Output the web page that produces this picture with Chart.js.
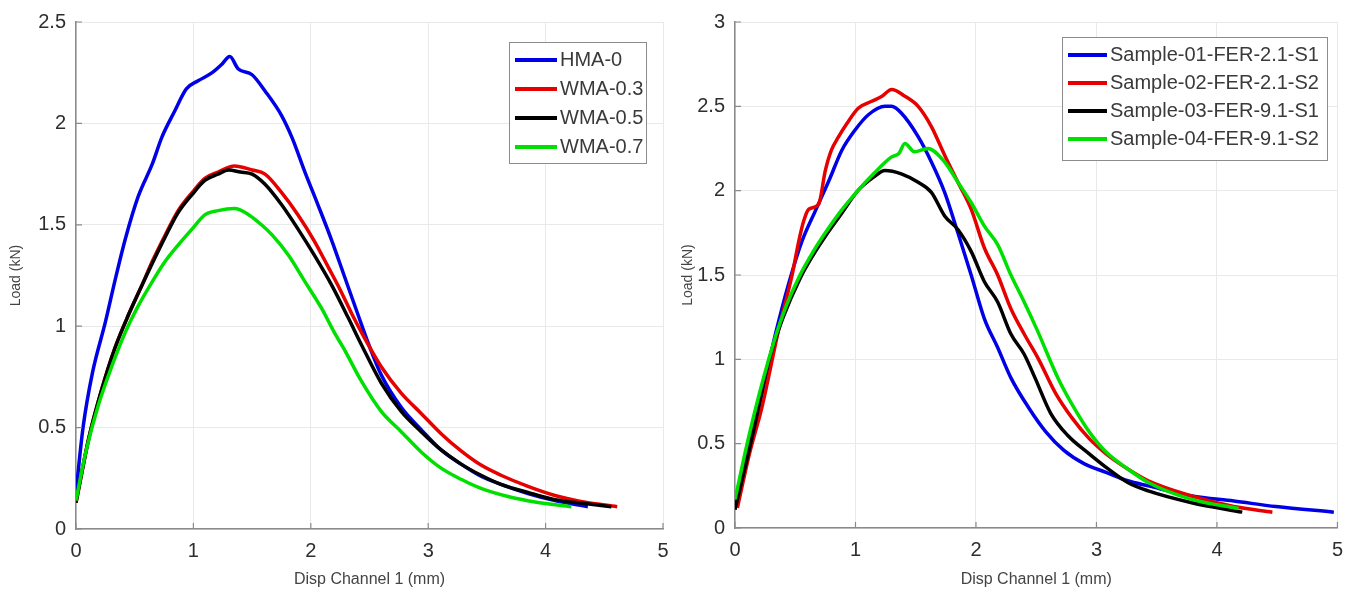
<!DOCTYPE html>
<html>
<head>
<meta charset="utf-8">
<script src="https://cdn.jsdelivr.net/npm/chart.js@4.4.0/dist/chart.umd.min.js"></script>
<style>
  html, body { margin: 0; padding: 0; background: #fff; }
  #wrap { position: relative; width: 1353px; height: 592px; }
  #left { position: absolute; left: 0; top: 0; }
  #right { position: absolute; left: 680px; top: 0; }
</style>
</head>
<body>
<div id="wrap">
  <canvas id="left" width="680" height="592"></canvas>
  <canvas id="right" width="673" height="592"></canvas>
</div>
<script>
// ---- data: [disp (mm), load (kN)] ----
const hma0 = [[0,0.18],[0.06,0.50],[0.14,0.77],[0.25,1.02],[0.33,1.22],[0.42,1.43],[0.53,1.64],[0.65,1.80],[0.73,1.93],[0.84,2.06],[0.94,2.17],[1.04,2.21],[1.16,2.25],[1.24,2.29],[1.31,2.33],[1.38,2.27],[1.50,2.24],[1.61,2.16],[1.75,2.04],[1.84,1.93],[1.95,1.76],[2.06,1.60],[2.18,1.42],[2.29,1.24],[2.40,1.06],[2.50,0.90],[2.60,0.76],[2.77,0.60],[2.94,0.49],[3.11,0.39],[3.28,0.32],[3.45,0.26],[3.62,0.22],[3.85,0.175],[4.08,0.14],[4.36,0.11]];
const wma03 = [[0,0.13],[0.11,0.45],[0.22,0.69],[0.33,0.89],[0.45,1.06],[0.56,1.20],[0.65,1.32],[0.76,1.45],[0.87,1.57],[0.99,1.66],[1.10,1.73],[1.21,1.76],[1.35,1.79],[1.50,1.77],[1.61,1.75],[1.75,1.66],[1.89,1.55],[2.03,1.42],[2.15,1.29],[2.25,1.18],[2.35,1.06],[2.45,0.95],[2.60,0.80],[2.77,0.67],[2.94,0.57],[3.11,0.47],[3.28,0.385],[3.45,0.315],[3.62,0.265],[3.85,0.21],[4.08,0.165],[4.30,0.136],[4.61,0.11]];
const wma05 = [[0,0.13],[0.11,0.45],[0.22,0.69],[0.33,0.89],[0.45,1.06],[0.56,1.20],[0.65,1.31],[0.76,1.44],[0.87,1.56],[0.99,1.65],[1.10,1.72],[1.21,1.75],[1.30,1.77],[1.40,1.76],[1.50,1.75],[1.61,1.70],[1.75,1.60],[1.89,1.48],[2.03,1.35],[2.18,1.20],[2.32,1.04],[2.43,0.91],[2.60,0.72],[2.77,0.58],[2.94,0.48],[3.11,0.39],[3.28,0.32],[3.45,0.265],[3.62,0.22],[3.85,0.18],[4.08,0.145],[4.30,0.128],[4.56,0.11]];
const wma07 = [[0,0.14],[0.08,0.37],[0.19,0.61],[0.31,0.81],[0.42,0.97],[0.53,1.10],[0.65,1.22],[0.76,1.32],[0.87,1.40],[0.99,1.48],[1.10,1.55],[1.21,1.57],[1.35,1.58],[1.47,1.55],[1.58,1.50],[1.67,1.45],[1.81,1.35],[1.95,1.22],[2.09,1.09],[2.20,0.97],[2.30,0.87],[2.43,0.73],[2.60,0.58],[2.77,0.48],[2.94,0.38],[3.11,0.30],[3.28,0.245],[3.45,0.20],[3.68,0.16],[3.91,0.133],[4.22,0.11]];

const s01 = [[0,0.11],[0.12,0.49],[0.225,0.80],[0.336,1.15],[0.446,1.45],[0.556,1.70],[0.667,1.88],[0.78,2.06],[0.887,2.24],[0.997,2.36],[1.107,2.45],[1.245,2.50],[1.30,2.50],[1.38,2.46],[1.52,2.32],[1.63,2.17],[1.74,1.99],[1.85,1.75],[1.96,1.50],[2.07,1.24],[2.18,1.07],[2.29,0.89],[2.44,0.71],[2.58,0.57],[2.73,0.46],[2.90,0.38],[3.08,0.33],[3.26,0.28],[3.43,0.25],[3.79,0.19],[4.14,0.16],[4.49,0.127],[4.97,0.094]];
const s02 = [[0.02,0.12],[0.12,0.44],[0.225,0.72],[0.364,1.18],[0.474,1.50],[0.529,1.70],[0.57,1.82],[0.612,1.89],[0.694,1.92],[0.75,2.12],[0.80,2.24],[0.86,2.32],[0.93,2.40],[1.025,2.49],[1.135,2.53],[1.22,2.56],[1.30,2.60],[1.41,2.56],[1.52,2.50],[1.63,2.38],[1.74,2.21],[1.85,2.05],[1.96,1.89],[2.07,1.66],[2.18,1.50],[2.29,1.30],[2.40,1.15],[2.52,1.00],[2.66,0.80],[2.80,0.65],[2.94,0.53],[3.08,0.44],[3.26,0.35],[3.43,0.28],[3.79,0.19],[4.14,0.127],[4.46,0.094]];
const s03 = [[0,0.11],[0.143,0.54],[0.28,0.99],[0.40,1.25],[0.54,1.48],[0.65,1.62],[0.75,1.73],[0.88,1.86],[1.02,2.00],[1.15,2.08],[1.245,2.12],[1.38,2.10],[1.52,2.05],[1.63,1.99],[1.74,1.85],[1.85,1.77],[1.96,1.64],[2.07,1.46],[2.18,1.34],[2.29,1.15],[2.40,1.03],[2.49,0.89],[2.62,0.68],[2.76,0.55],[2.94,0.44],[3.08,0.36],[3.26,0.27],[3.43,0.22],[3.79,0.15],[4.21,0.094]];
const s04 = [[0,0.17],[0.12,0.56],[0.28,1.00],[0.40,1.27],[0.54,1.50],[0.65,1.64],[0.75,1.75],[0.88,1.88],[1.02,2.00],[1.15,2.10],[1.30,2.20],[1.36,2.22],[1.41,2.28],[1.49,2.23],[1.60,2.25],[1.74,2.17],[1.85,2.05],[1.96,1.93],[2.07,1.79],[2.18,1.68],[2.29,1.50],[2.40,1.34],[2.51,1.17],[2.68,0.89],[2.80,0.73],[2.94,0.57],[3.08,0.45],[3.26,0.35],[3.43,0.27],[3.79,0.17],[4.18,0.116]];

const leftNames = ["HMA-0", "WMA-0.3", "WMA-0.5", "WMA-0.7"];
const rightNames = ["Sample-01-FER-2.1-S1", "Sample-02-FER-2.1-S2", "Sample-03-FER-9.1-S1", "Sample-04-FER-9.1-S2"];
const lineColors = ["#0000e6", "#e60000", "#000000", "#00e000"];
const xTicks = [0, 1, 2, 3, 4, 5];
const leftYTicks = [0, 0.5, 1, 1.5, 2, 2.5];
const rightYTicks = [0, 0.5, 1, 1.5, 2, 2.5, 3];

const FONT = "'Liberation Sans', Arial, sans-serif";
const AXIS = "#8a8a8a";

/* inward tick marks, MATLAB style */
const innerTicks = {
  id: "innerTicks",
  afterDatasetsDraw(chart) {
    const ctx = chart.ctx, x = chart.scales.x, y = chart.scales.y;
    const a = chart.chartArea;
    ctx.save();
    ctx.strokeStyle = AXIS;
    ctx.lineWidth = 1.2;
    ctx.beginPath();
    x.ticks.forEach(t => {
      const px = x.getPixelForValue(t.value);
      ctx.moveTo(px, a.bottom); ctx.lineTo(px, a.bottom - 6);
    });
    y.ticks.forEach(t => {
      const py = y.getPixelForValue(t.value);
      ctx.moveTo(a.left, py); ctx.lineTo(a.left + 6, py);
    });
    ctx.stroke();
    ctx.restore();
  }
};

/* boxed legend drawn inside the axes */
const boxLegend = {
  id: "boxLegend",
  afterDatasetsDraw(chart, args, opts) {
    const ctx = chart.ctx;
    ctx.save();
    ctx.fillStyle = "#fff";
    ctx.fillRect(opts.x, opts.y, opts.w, opts.h);
    ctx.strokeStyle = "#8c8c8c";
    ctx.lineWidth = 1;
    ctx.strokeRect(opts.x + 0.5, opts.y + 0.5, opts.w, opts.h);
    ctx.font = "20px " + FONT;
    ctx.textBaseline = "middle";
    chart.data.datasets.forEach((ds, i) => {
      const cy = opts.y + opts.first + i * opts.step;
      ctx.strokeStyle = ds.borderColor;
      ctx.lineWidth = 4;
      ctx.beginPath();
      ctx.moveTo(opts.x + 6, cy);
      ctx.lineTo(opts.x + 6 + opts.line, cy);
      ctx.stroke();
      ctx.fillStyle = "#3a3a3a";
      ctx.fillText(ds.label, opts.x + 9 + opts.line, cy);
    });
    ctx.restore();
  }
};

function makeDatasets(series, names) {
  return series.map((pts, i) => ({
    label: names[i],
    data: pts.map(p => ({ x: p[0], y: p[1] })),
    borderColor: lineColors[i],
    borderWidth: 3.5,
    pointRadius: 0,
    cubicInterpolationMode: "monotone",
    order: series.length - 1 - i
  }));
}

function makeChart(id, series, names, yTicks, geo, legend) {
  return new Chart(document.getElementById(id), {
    type: "line",
    data: { datasets: makeDatasets(series, names) },
    options: {
      responsive: false,
      animation: false,
      layout: { padding: { top: geo.top, right: geo.right, bottom: 0, left: 0 } },
      plugins: {
        legend: { display: false },
        tooltip: { enabled: false },
        boxLegend: legend
      },
      scales: {
        x: {
          type: "linear",
          min: xTicks[0], max: xTicks[xTicks.length - 1],
          afterBuildTicks: s => { s.ticks = xTicks.map(v => ({ value: v })); },
          afterFit: s => { s.height = geo.xh; },
          grid: { color: "#e9e9e9", lineWidth: 1, drawTicks: false },
          border: { display: true, color: AXIS, width: 1.5 },
          ticks: { color: "#2e2e2e", font: { family: FONT, size: 20 }, padding: 10, maxRotation: 0, callback: v => String(v) },
          title: { display: true, text: "Disp Channel 1 (mm)", color: "#444", font: { family: FONT, size: 16 }, padding: { top: 0, bottom: 3 } }
        },
        y: {
          type: "linear",
          min: yTicks[0], max: yTicks[yTicks.length - 1],
          afterBuildTicks: s => { s.ticks = yTicks.map(v => ({ value: v })); },
          afterFit: s => { s.width = geo.yw; },
          grid: { color: "#e9e9e9", lineWidth: 1, drawTicks: false },
          border: { display: true, color: AXIS, width: 1.5 },
          ticks: { color: "#2e2e2e", font: { family: FONT, size: 20 }, padding: geo.tp, callback: v => String(v) },
          title: { display: true, text: "Load (kN)", color: "#444", font: { family: FONT, size: 14 }, padding: { top: geo.tt, bottom: 0 } }
        }
      }
    },
    plugins: [innerTicks, boxLegend]
  });
}

makeChart("left", [hma0, wma03, wma05, wma07], leftNames, leftYTicks,
  { top: 22, right: 17, xh: 63, yw: 76, tp: 10, tt: 8 },
  { x: 509, y: 42, w: 137, h: 121, first: 18, step: 29, line: 42 });

makeChart("right", [s01, s02, s03, s04], rightNames, rightYTicks,
  { top: 18, right: 13, xh: 64, yw: 55, tp: 10, tt: 0 },
  { x: 382, y: 37, w: 265, h: 123, first: 18, step: 28, line: 39 });
</script>
</body>
</html>
